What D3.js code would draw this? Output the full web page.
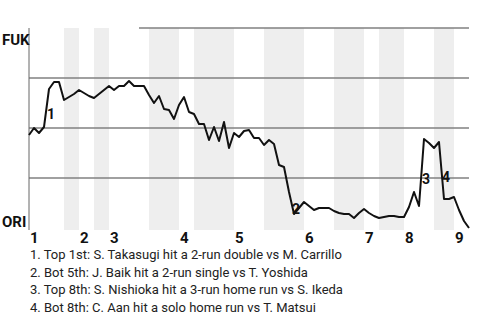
<!DOCTYPE html>
<html>
<head>
<meta charset="utf-8">
<script src="https://cdn.jsdelivr.net/npm/d3@7"></script>
<style>
  body { margin: 0; background: #fff; }
  text { font-family: Roboto, "Noto Sans", sans-serif; }
</style>
</head>
<body>
<svg id="chart"></svg>
<script>
// win probability for FUK (top of chart) after each plate appearance
const winProb = [
  0.465, 0.50, 0.475, 0.505, 0.695, 0.73, 0.73, 0.64, 0.655, 0.67,
  0.69, 0.675, 0.66, 0.65, 0.67, 0.69, 0.71, 0.69, 0.71, 0.71,
  0.735, 0.71, 0.71, 0.71, 0.665, 0.625, 0.66, 0.595, 0.59, 0.545,
  0.615, 0.655, 0.58, 0.57, 0.52, 0.52, 0.44, 0.505, 0.435, 0.53,
  0.40, 0.475, 0.455, 0.485, 0.49, 0.45, 0.45, 0.415, 0.44, 0.42,
  0.315, 0.305, 0.18, 0.07, 0.10, 0.13, 0.11, 0.09, 0.10, 0.10,
  0.10, 0.085, 0.075, 0.07, 0.07, 0.05, 0.075, 0.095, 0.075, 0.06,
  0.05, 0.055, 0.06, 0.06, 0.055, 0.055, 0.105, 0.18, 0.11, 0.445,
  0.425, 0.40, 0.43, 0.145, 0.145, 0.155, 0.09, 0.035, 0.0
]

const innings = [1, 2, 3, 4, 5, 6, 7, 8, 9]
const inningStart = [0, 10, 16, 30, 41, 55, 67, 75, 85]   // PA index where each inning begins
const bottomStart = [7, 13, 24, 33, 47, 61, 70, 81]       // PA index where the bottom half begins
const gameEnd = 88

const teams = ["FUK", "ORI"]
const gridValues = [0.25, 0.5, 0.75, 1]

const keyPlays = [
  {n: 1, pa: 4, text: "Top 1st: S. Takasugi hit a 2-run double vs M. Carrillo"},
  {n: 2, pa: 53, text: "Bot 5th: J. Baik hit a 2-run single vs T. Yoshida"},
  {n: 3, pa: 79, text: "Top 8th: S. Nishioka hit a 3-run home run vs S. Ikeda"},
  {n: 4, pa: 83, text: "Bot 8th: C. Aan hit a solo home run vs T. Matsui"},
]

const width = 480
const height = 320
const margin = {top: 28, right: 11, bottom: 92, left: 29}

const x = d3.scaleLinear()
  .domain([0, gameEnd])
  .range([margin.left, width - margin.right])

const y = d3.scaleLinear()
  .domain([0, 1])
  .range([height - margin.bottom, margin.top])

const svg = d3.select("#chart")
  .attr("width", width)
  .attr("height", height)

// bottom halves shaded
const bands = bottomStart.map((s, i) => ({start: s, end: i + 1 < inningStart.length ? inningStart[i + 1] : gameEnd}))
svg.append("g")
  .selectAll("rect")
  .data(bands)
  .join("rect")
    .attr("x", d => x(d.start))
    .attr("width", d => x(d.end) - x(d.start))
    .attr("y", y(1))
    .attr("height", y(0) - y(1) + 2)
    .attr("fill", "#eeeeee")

// horizontal grid
svg.append("g")
  .selectAll("line")
  .data(gridValues)
  .join("line")
    .attr("x1", d => d === 1 ? x(22) : x(0))
    .attr("x2", x(gameEnd))
    .attr("y1", d => y(d))
    .attr("y2", d => y(d))
    .attr("stroke", "#808080")
    .attr("stroke-width", 1.5)

// left rule
svg.append("line")
  .attr("x1", x(0)).attr("x2", x(0))
  .attr("y1", y(1)).attr("y2", y(0) + 2)
  .attr("stroke", "#666")
  .attr("stroke-width", 1)

// team labels
svg.append("g")
  .selectAll("text")
  .data(teams)
  .join("text")
    .attr("x", 2)
    .attr("y", (d, i) => i === 0 ? y(1) + 17 : y(0) - 1)
    .attr("font-size", 15)
    .attr("font-weight", "bold")
    .attr("fill", "#111")
    .text(d => d)

// inning numbers
svg.append("g")
  .selectAll("text")
  .data(innings)
  .join("text")
    .attr("x", (d, i) => x(inningStart[i]) + 1)
    .attr("y", y(0) + 15)
    .attr("font-size", 15)
    .attr("font-weight", "bold")
    .attr("fill", "#111")
    .text(d => d)

// win probability line
const line = d3.line()
  .x((d, i) => x(i))
  .y(d => y(d))

svg.append("path")
  .datum(winProb)
  .attr("d", line)
  .attr("fill", "none")
  .attr("stroke", "#111")
  .attr("stroke-width", 2)
  .attr("stroke-linejoin", "round")

// key play markers
svg.append("g")
  .selectAll("text")
  .data(keyPlays)
  .join("text")
    .attr("x", d => x(d.pa) + 2)
    .attr("y", d => y((winProb[d.pa - 1] + winProb[d.pa]) / 2) + 11)
    .attr("text-anchor", "middle")
    .attr("font-size", 14)
    .attr("font-weight", "bold")
    .attr("fill", "#111")
    .text(d => d.n)

// key play notes
svg.append("g")
  .selectAll("text")
  .data(keyPlays)
  .join("text")
    .attr("x", 30)
    .attr("y", (d, i) => 259 + i * 17.5)
    .attr("font-size", 13)
    .attr("fill", "#222")
    .text(d => `${d.n}. ${d.text}`)
</script>
</body>
</html>
